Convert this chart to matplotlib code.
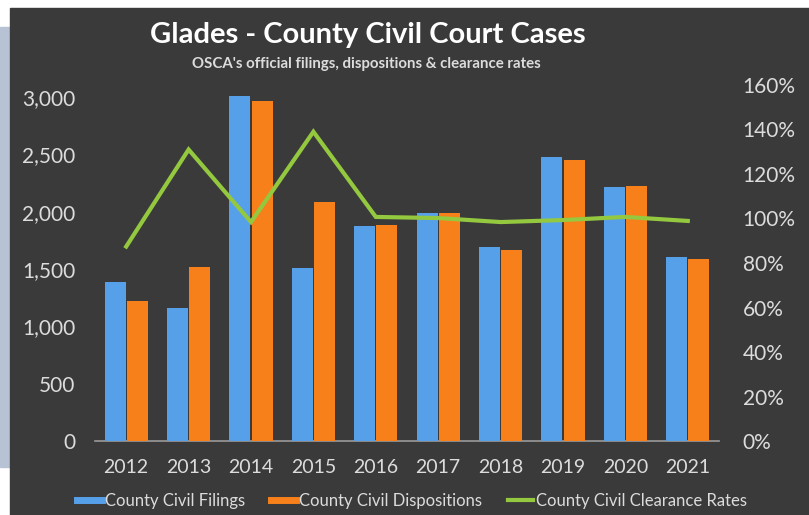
import matplotlib
matplotlib.use('Agg')
from matplotlib import pyplot as plt
from matplotlib.lines import Line2D
from matplotlib.patches import Rectangle
from matplotlib.ticker import FuncFormatter, MultipleLocator
import numpy as np

plt.rcParams['font.family'] = ['Lato', 'DejaVu Sans']

years = ['2012', '2013', '2014', '2015', '2016', '2017', '2018', '2019', '2020', '2021']
filings = [1387, 1160, 3010, 1510, 1876, 1990, 1693, 2478, 2216, 1605]
dispositions = [1222, 1518, 2967, 2086, 1885, 1990, 1667, 2452, 2225, 1588]
clearance = [0.874, 1.31, 0.984, 1.39, 1.007, 1.002, 0.984, 0.993, 1.007, 0.989]

BLUE = '#56a0ea'
ORANGE = '#f7801a'
GREEN = '#93c83f'
BG = '#3a3a3a'
TXT = '#dcdcdc'


def main():
    W, H = 809, 515
    fig = plt.figure(figsize=(W / 100, H / 100), dpi=100, facecolor='white')

    # side panel and dark chart area, behind the axes
    fig.patches.append(Rectangle((0, 1 - 467 / H), 12 / W, 440 / H,
                                 transform=fig.transFigure, color='#b7c3d5', zorder=-3))
    fig.patches.append(Rectangle((10 / W, 0), 1 - 10 / W, 1 - 8 / H,
                                 transform=fig.transFigure, color=BG, zorder=-2))

    ax = fig.add_axes([95 / W, 1 - 441 / H, (719 - 95) / W, (441 - 85) / H])
    ax.set_facecolor('none')
    x = np.arange(len(years))
    w = 0.335
    ax.bar(x - w / 2 - 0.01, filings, w, color=BLUE, zorder=3)
    ax.bar(x + w / 2 + 0.01, dispositions, w, color=ORANGE, zorder=3)
    ax.set_xlim(-0.5, len(years) - 0.5)
    ax.set_ylim(0, 3105)
    ax.yaxis.set_major_locator(MultipleLocator(500))
    ax.yaxis.set_major_formatter(FuncFormatter(lambda v, p: '{:,.0f}'.format(v)))
    ax.set_xticks(x)
    ax.set_xticklabels(years)
    for s in ['top', 'right', 'left']:
        ax.spines[s].set_visible(False)
    ax.spines['bottom'].set_color('#9a9a9a')
    ax.spines['bottom'].set_linewidth(1.2)
    ax.tick_params(axis='both', length=0, colors=TXT)
    ax.tick_params(axis='y', pad=14, labelsize=15)
    ax.tick_params(axis='x', pad=13, labelsize=14)

    ax2 = ax.twinx()
    ax2.plot(x, clearance, color=GREEN, lw=3, zorder=5, solid_joinstyle='miter')
    ax2.set_ylim(0, 1.6)
    ax2.yaxis.set_major_locator(MultipleLocator(0.2))
    ax2.yaxis.set_major_formatter(FuncFormatter(lambda v, p: '{:.0f}%'.format(v * 100)))
    for s in ax2.spines.values():
        s.set_visible(False)
    ax2.tick_params(axis='y', length=0, colors=TXT, labelsize=15, pad=17)

    fig.text(368 / W, 1 - 35 / H, 'Glades - County Civil Court Cases', ha='center', va='center',
             fontsize=21, fontweight='bold', color='white')
    fig.text(366 / W, 1 - 64 / H, "OSCA's official filings, dispositions & clearance rates",
             ha='center', va='center', fontsize=10.8, fontweight='bold', color=TXT)

    handles = [Line2D([], [], color=BLUE, lw=5),
               Line2D([], [], color=ORANGE, lw=5),
               Line2D([], [], color=GREEN, lw=3)]
    labels = ['County Civil Filings', 'County Civil Dispositions', 'County Civil Clearance Rates']
    leg = fig.legend(handles, labels, loc='center', bbox_to_anchor=(412 / W, 1 - 501 / H),
                     ncol=3, frameon=False, fontsize=12, handlelength=1.5, handletextpad=0.15,
                     columnspacing=1.6)
    for t in leg.get_texts():
        t.set_color(TXT)

    fig.savefig('out.png', dpi=100, facecolor=fig.get_facecolor())


if __name__ == '__main__':
    main()
